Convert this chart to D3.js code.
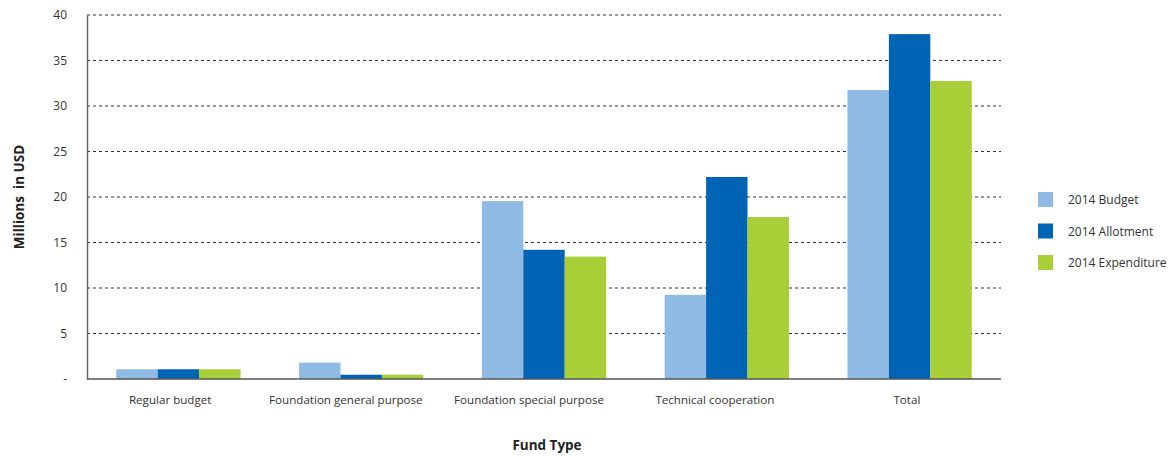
<!DOCTYPE html>
<html><head><meta charset="utf-8">
<script src="https://cdn.jsdelivr.net/npm/d3@7"></script>
<style>body{margin:0;background:#fff;font-family:"Open Sans",sans-serif;}</style>
</head><body>
<svg id="c" width="1169" height="456"></svg>
<script>
const categories = ["Regular budget","Foundation general purpose","Foundation special purpose","Technical cooperation","Total"];
const seriesNames = ["2014 Budget","2014 Allotment","2014 Expenditure"];
const budget = [1.07, 1.8, 19.55, 9.25, 31.75];
const allotment = [1.07, 0.47, 14.2, 22.2, 37.9];
const expenditure = [1.07, 0.47, 13.45, 17.8, 32.75];
const colors = ["#8FBAE3","#0064B4","#A8CE38"];
const yTicks = [0,5,10,15,20,25,30,35,40];

const values = [budget, allotment, expenditure];
const svg = d3.select("#c");
const m = {l:87, r:1001, t:15, b:379};
const x0 = d3.scaleBand().domain(categories).range([m.l, m.r]).paddingInner(0.32).paddingOuter(0.16);
const x1 = d3.scaleBand().domain(seriesNames).range([0, x0.bandwidth()]);
const y = d3.scaleLinear().domain([0,40]).range([m.b, m.t]);

// gridlines
svg.append("g").selectAll("line").data(yTicks.filter(d=>d>0)).join("line")
  .attr("x1", m.l).attr("x2", m.r).attr("y1", d=>y(d)).attr("y2", d=>y(d))
  .attr("stroke","#333").attr("stroke-width",1).attr("stroke-dasharray","3,3");

// bars
categories.forEach((c,i)=>{
  svg.append("g").selectAll("rect").data(seriesNames).join("rect")
    .attr("x", s=>x0(c)+x1(s)).attr("width", x1.bandwidth())
    .attr("y", (s,j)=>y(values[j][i])).attr("height",(s,j)=>y(0)-y(values[j][i]))
    .attr("fill",(s,j)=>colors[j]);
});

// y axis
const ya = d3.axisLeft(y).tickValues(yTicks).tickSize(0).tickPadding(20)
  .tickFormat(d=> d===0 ? "-" : d);
const yg = svg.append("g").attr("transform",`translate(${m.l},0)`).call(ya);
yg.select(".domain").attr("stroke","#666").attr("stroke-width",1.5);
yg.selectAll("text").attr("font-family","Open Sans").attr("font-size",12).attr("fill","#333");

// x axis
const xa = d3.axisBottom(x0).tickSize(0).tickPadding(17);
const xg = svg.append("g").attr("transform",`translate(0,${m.b})`).call(xa);
xg.select(".domain").attr("stroke","#555").attr("stroke-width",1.5).attr("d",`M${m.l},0H${m.r}`);
xg.selectAll("text").attr("font-family","Open Sans").attr("font-size",11.6).attr("fill","#333")
  .each(function(){ const w = this.getComputedTextLength(); d3.select(this).attr("dx", -0.1*w); });

// axis titles
svg.append("text").attr("transform","translate(24,197) rotate(-90)").attr("text-anchor","middle")
  .style("white-space","pre")
  .attr("font-family","Open Sans").attr("font-weight","bold").attr("font-size",13.5).attr("fill","#222")
  .text("Millions  in USD");
svg.append("text").attr("x",547).attr("y",450).attr("text-anchor","middle")
  .attr("font-family","Open Sans").attr("font-weight","bold").attr("font-size",13.5).attr("fill","#222")
  .text("Fund Type");

// legend
const lg = svg.append("g").attr("transform","translate(1038,192)");
seriesNames.forEach((s,i)=>{
  const g = lg.append("g").attr("transform",`translate(0,${i*31.5})`);
  g.append("rect").attr("width",15).attr("height",15).attr("fill",colors[i]);
  g.append("text").attr("x",30).attr("y",12).attr("font-family","Open Sans").attr("font-size",12).attr("fill","#333").text(s);
});
</script>
</body></html>
